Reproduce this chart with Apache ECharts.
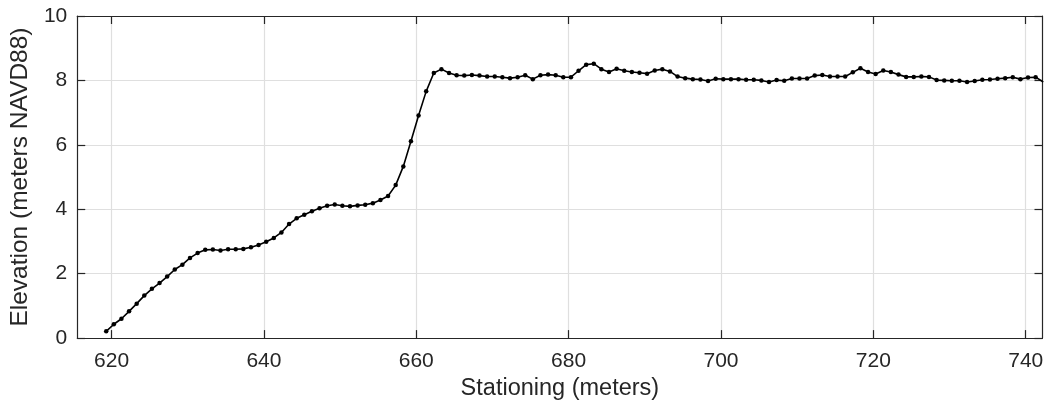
<!DOCTYPE html>
<html>
<head>
<meta charset="utf-8">
<script src="https://cdn.jsdelivr.net/npm/echarts@6/dist/echarts.min.js"></script>
<style>
html, body { margin: 0; padding: 0; background: #ffffff; }
#chart { width: 1047px; height: 406px; }
</style>
</head>
<body>
<div id="chart"></div>
<script>
// Surveyed profile: station along the transect (m) and ground elevation (m NAVD88)
const stations = [
  619.3, 620.3, 621.3, 622.3, 623.3, 624.3, 625.3, 626.3, 627.3, 628.3,
  629.3, 630.3, 631.3, 632.3, 633.3, 634.3, 635.3, 636.3, 637.3, 638.3,
  639.3, 640.3, 641.3, 642.3, 643.3, 644.3, 645.3, 646.3, 647.3, 648.3,
  649.3, 650.3, 651.3, 652.3, 653.3, 654.3, 655.3, 656.3, 657.3, 658.3,
  659.3, 660.3, 661.3, 662.3, 663.3, 664.3, 665.3, 666.3, 667.3, 668.3,
  669.3, 670.3, 671.3, 672.3, 673.3, 674.3, 675.3, 676.3, 677.3, 678.3,
  679.3, 680.3, 681.3, 682.3, 683.3, 684.3, 685.3, 686.3, 687.3, 688.3,
  689.3, 690.3, 691.3, 692.3, 693.3, 694.3, 695.3, 696.3, 697.3, 698.3,
  699.3, 700.3, 701.3, 702.3, 703.3, 704.3, 705.3, 706.3, 707.3, 708.3,
  709.3, 710.3, 711.3, 712.3, 713.3, 714.3, 715.3, 716.3, 717.3, 718.3,
  719.3, 720.3, 721.3, 722.3, 723.3, 724.3, 725.3, 726.3, 727.3, 728.3,
  729.3, 730.3, 731.3, 732.3, 733.3, 734.3, 735.3, 736.3, 737.3, 738.3,
  739.3, 740.3, 741.3, 742.3
];
const elevations = [
  0.21, 0.43, 0.60, 0.83, 1.07, 1.32, 1.53, 1.71, 1.91, 2.13,
  2.28, 2.49, 2.64, 2.74, 2.75, 2.72, 2.76, 2.76, 2.77, 2.82,
  2.89, 2.99, 3.11, 3.28, 3.54, 3.72, 3.83, 3.94, 4.03, 4.11,
  4.15, 4.11, 4.09, 4.12, 4.14, 4.19, 4.29, 4.41, 4.75, 5.33,
  6.11, 6.91, 7.66, 8.23, 8.35, 8.23, 8.16, 8.15, 8.17, 8.15,
  8.12, 8.12, 8.10, 8.07, 8.10, 8.16, 8.04, 8.16, 8.18, 8.16,
  8.10, 8.10, 8.30, 8.49, 8.52, 8.35, 8.26, 8.36, 8.30, 8.26,
  8.24, 8.21, 8.31, 8.35, 8.28, 8.12, 8.07, 8.04, 8.03, 7.98,
  8.05, 8.04, 8.04, 8.04, 8.02, 8.02, 8.00, 7.95, 8.01, 7.99,
  8.06, 8.06, 8.06, 8.15, 8.17, 8.12, 8.12, 8.12, 8.25, 8.38,
  8.26, 8.20, 8.31, 8.26, 8.18, 8.11, 8.11, 8.12, 8.11, 8.01,
  8.00, 7.99, 7.99, 7.95, 7.98, 8.02, 8.03, 8.05, 8.07, 8.10,
  8.04, 8.09, 8.10, 7.95
];
const xTicks = [620, 640, 660, 680, 700, 720, 740];
const yTicks = [0, 2, 4, 6, 8, 10];
const xLimits = [615.5, 742.2];
const yLimits = [0, 10];

const INK = '#262626';
const GRID = '#dfdfdf';
const FONT = '"Liberation Sans", Arial, Helvetica, sans-serif';

const chart = echarts.init(document.getElementById('chart'), null, { renderer: 'canvas' });

const xBase = {
  type: 'value',
  min: xLimits[0],
  max: xLimits[1],
  axisLine: { show: true, onZero: false, lineStyle: { color: INK, width: 1.2 } },
  axisTick: { show: true, inside: true, length: 8, customValues: xTicks, lineStyle: { color: INK, width: 1.2 } }
};
const yBase = {
  type: 'value',
  min: yLimits[0],
  max: yLimits[1],
  interval: 2,
  axisLine: { show: true, onZero: false, lineStyle: { color: INK, width: 1.2 } },
  axisTick: { show: true, inside: true, length: 8, customValues: yTicks, lineStyle: { color: INK, width: 1.2 } }
};

chart.setOption({
  animation: false,
  backgroundColor: '#ffffff',
  grid: { left: 76.5, right: 4.5, top: 16, bottom: 66.5, containLabel: false },
  xAxis: [
    Object.assign({}, xBase, {
      position: 'bottom',
      name: 'Stationing (meters)',
      nameLocation: 'middle',
      nameGap: 37,
      nameTextStyle: { color: INK, fontFamily: FONT, fontSize: 23.5 },
      axisLabel: { show: true, customValues: xTicks, margin: 13, color: INK, fontFamily: FONT, fontSize: 21 },
      splitLine: { show: true, lineStyle: { color: GRID, width: 1.2 } }
    }),
    Object.assign({}, xBase, {
      position: 'top',
      axisLabel: { show: false },
      splitLine: { show: false }
    })
  ],
  yAxis: [
    Object.assign({}, yBase, {
      position: 'left',
      name: 'Elevation (meters NAVD88)',
      nameLocation: 'middle',
      nameGap: 40,
      nameTextStyle: { color: INK, fontFamily: FONT, fontSize: 24.5 },
      axisLabel: { show: true, margin: 10, color: INK, fontFamily: FONT, fontSize: 21 },
      splitLine: { show: true, lineStyle: { color: GRID, width: 1.2 } }
    }),
    Object.assign({}, yBase, {
      position: 'right',
      axisLabel: { show: false },
      splitLine: { show: false }
    })
  ],
  series: [{
    type: 'line',
    xAxisIndex: 0,
    yAxisIndex: 0,
    data: stations.map((s, i) => [s, elevations[i]]),
    clip: true,
    symbol: 'circle',
    symbolSize: 4.5,
    showAllSymbol: true,
    lineStyle: { color: '#000000', width: 1.6 },
    itemStyle: { color: '#000000' },
    emphasis: { disabled: true },
    z: 5
  }]
});
</script>
</body>
</html>
